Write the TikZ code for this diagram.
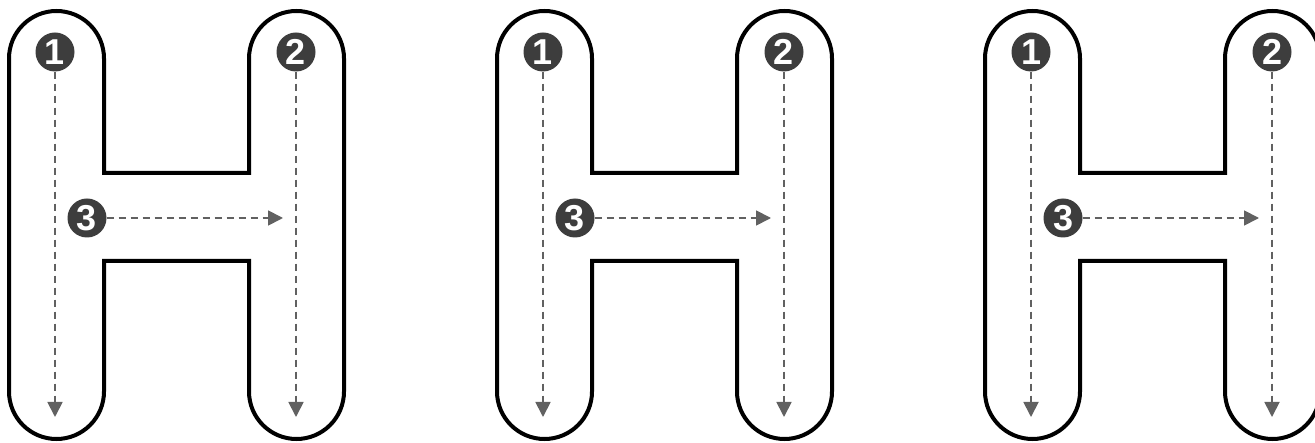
\documentclass[tikz,border=0pt]{standalone}
\usepackage{fontspec}
\setmainfont{Liberation Sans}
\usetikzlibrary{arrows.meta}

\begin{document}
\begin{tikzpicture}[x=1pt, y=1pt, >={Triangle[width=15pt,length=15pt]},
    outline/.style={line width=4pt, line join=miter},
    guide/.style={->, draw=black!62, line width=1.8pt, dash pattern=on 7pt off 5pt},
    badge/.style={circle, fill=black!76, text=white, inner sep=0pt, minimum size=39pt, font=\fontsize{36}{36}\selectfont\bfseries}]
  \fill[white] (0,0) rectangle (1315,442);
  \useasboundingbox (0,0) rectangle (1315,442);
  % three copies of the letter, 488pt apart
  \foreach \i/\ox in {1/0, 2/488, 3/976} {
    \begin{scope}[xshift=\ox pt]
      \draw[outline] (9,50.5) -- (9,383.5) arc[start angle=180, end angle=0, radius=47.5pt]
        -- (104,269) -- (249,269) -- (249,383.5) arc[start angle=180, end angle=0, radius=47.5pt]
        -- (344,50.5) arc[start angle=0, end angle=-180, radius=47.5pt]
        -- (249,181) -- (104,181) -- (104,50.5) arc[start angle=0, end angle=-180, radius=47.5pt] -- cycle;
      \node[badge] (one-\i) at (55,390) {1};
      \node[badge] (two-\i) at (296,390) {2};
      \node[badge] (three-\i) at (87,224) {3};
      \coordinate (endone-\i) at (55,25);
      \coordinate (endtwo-\i) at (296,25);
      \coordinate (endthree-\i) at (283,224);
      \draw[guide] (one-\i) -- (endone-\i);
      \draw[guide] (two-\i) -- (endtwo-\i);
      \draw[guide] (three-\i) -- (endthree-\i);
    \end{scope}
  }
\end{tikzpicture}
\end{document}
